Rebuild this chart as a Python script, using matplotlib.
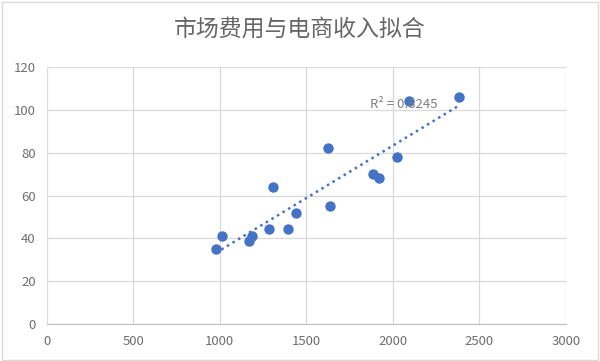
import numpy as np
import matplotlib.pyplot as plt

plt.rcParams['font.family'] = ['Noto Sans CJK SC', 'DejaVu Sans']

# market spend vs e-commerce revenue
spend = [977, 1015, 1168, 1189, 1287, 1305, 1393, 1443, 1628, 1638, 1888, 1919, 2023, 2092, 2381]
revenue = [35, 41, 39, 41, 44.5, 64, 44.5, 52, 82, 55, 70, 68, 78, 104, 106]
r2_label = "R² = 0.8245"

x = np.array(spend)
y = np.array(revenue)
k, b = np.polyfit(x, y, 1)

fig = plt.figure(figsize=(6, 3.61), dpi=100)
ax = fig.add_axes([0.078, 0.1025, 0.865, 0.7115])

ax.scatter(x, y, s=42, color='#4472C4', zorder=3)
xs = np.array([x.min(), x.max()])
ax.plot(xs, k * xs + b, color='#4472C4', linestyle=(0, (1, 1.6)), linewidth=1.8, zorder=2)
ax.text(1870, 102.5, r2_label, color='#7f7f7f', fontsize=9.5, va='center', zorder=4)

ax.set_xlim(0, 3000)
ax.set_ylim(0, 120)
ax.set_xticks(range(0, 3001, 500))
ax.set_yticks(range(0, 121, 20))
ax.grid(True, color='#d9d9d9', linewidth=0.9)
ax.set_axisbelow(True)
for side in ['top', 'right', 'left']:
    ax.spines[side].set_visible(False)
ax.spines['bottom'].set_color('#bfbfbf')
ax.tick_params(length=0, colors='#6e6e6e', labelsize=9.5, pad=8)

fig.suptitle('市场费用与电商收入拟合', y=0.95, fontsize=16.5, color='#666666')
fig.patches.append(plt.Rectangle((0.003, 0.004), 0.994, 0.99, transform=fig.transFigure,
                                 fill=False, edgecolor='#d9d9d9', linewidth=1))

fig.savefig('out.png', dpi=100)
